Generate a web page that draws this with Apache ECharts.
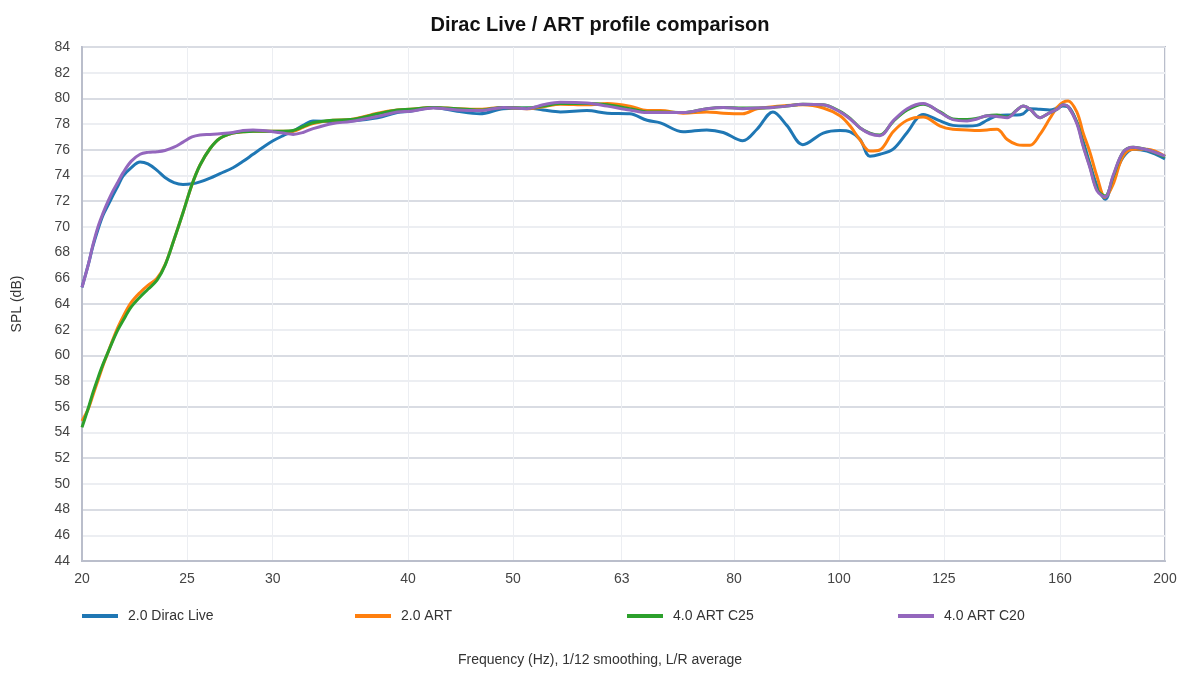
<!DOCTYPE html>
<html>
<head>
<meta charset="utf-8">
<script src="https://cdn.jsdelivr.net/npm/echarts@6/dist/echarts.min.js"></script>
<style>
  html, body { margin: 0; padding: 0; background: #fff; }
  #chart { width: 1200px; height: 680px; }
</style>
</head>
<body>
<div id="chart"></div>
<script>
const freqs = [
  20.0, 20.26, 20.47, 20.69, 20.91, 21.14, 21.36, 21.59, 21.82, 22.20,
  22.63, 23.01, 23.46, 23.86, 24.32, 24.79, 25.27, 25.70, 26.26, 26.82,
  27.57, 28.17, 28.77, 29.39, 30.02, 30.67, 31.33, 32.00, 32.69,
  34.1, 35.4, 37.5,
  39.1, 40.2, 42.2, 44.4, 46.6, 49.0, 51.5, 53.3, 55.3, 58.5,
  61.1, 64.1, 66.5, 68.4, 71.8, 75.5, 78.2, 81.5, 84.0, 86.9,
  89.5, 92.6, 96.7, 100.2, 102.4, 104.6, 106.8, 109.1, 112.2, 115.6,
  119.6, 124.0, 127.4, 131.3, 134.1, 137.0, 139.9, 143.0, 146.0, 147.9,
  150.1, 153.3, 156.6, 159.0, 161.0, 162.8, 165.9, 168.0, 170.5, 173.1,
  176.1, 179.1, 182.9, 186.9, 192.5, 200.0];

const diracLive = [
  65.3, 67.0, 68.5, 69.8, 70.9, 71.7, 72.45, 73.2, 73.95, 74.6,
  75.05, 74.9, 74.4, 73.85, 73.45, 73.3, 73.35, 73.5, 73.8, 74.15,
  74.6, 75.1, 75.65, 76.2, 76.7, 77.1, 77.45, 77.9, 78.25,
  78.2, 78.25, 78.5,
  78.9, 79.0, 79.3, 79.0, 78.8, 79.2, 79.25, 79.1, 78.95, 79.05,
  78.85, 78.8, 78.3, 78.1, 77.4, 77.55, 77.35, 76.7, 77.6, 78.95,
  77.9, 76.4, 77.3, 77.5, 77.4, 76.8, 75.5, 75.65, 76.05, 77.35,
  78.75, 78.25, 77.9, 77.85, 77.9, 78.3, 78.65, 78.7, 78.7, 78.8,
  79.2, 79.15, 79.1, 79.25, 79.4, 79.35, 78.1, 76.7, 74.9, 73.2,
  72.15, 73.7, 75.4, 76.05, 75.9, 75.3];

const art20 = [
  54.9, 55.8, 56.9, 58.05, 59.2, 60.25, 61.25, 62.2, 63.0, 64.1,
  64.9, 65.45, 66.0, 67.05, 69.0, 71.1, 73.3, 74.8, 76.1, 76.9,
  77.3, 77.4, 77.45, 77.45, 77.45, 77.45, 77.45, 77.75, 78.05,
  78.3, 78.35, 78.85,
  79.1, 79.15, 79.3, 79.2, 79.15, 79.3, 79.2, 79.35, 79.55, 79.5,
  79.6, 79.4, 79.05, 79.05, 78.85, 78.95, 78.85, 78.8, 79.2, 79.35,
  79.45, 79.5, 79.25, 78.65, 77.85, 76.75, 75.9, 76.0, 77.4, 78.3,
  78.55, 77.85, 77.6, 77.55, 77.5, 77.55, 77.6, 76.8, 76.4, 76.35,
  76.35, 77.2, 78.45, 79.3, 79.7, 79.8, 78.9, 77.35, 75.8, 73.9,
  72.3, 73.3, 75.5, 76.05, 76.05, 75.5];

const artC25 = [
  54.4, 55.85, 57.1, 58.25, 59.3, 60.25, 61.15, 62.0, 62.7, 63.75,
  64.55, 65.15, 65.85, 67.0, 69.0, 71.1, 73.3, 74.8, 76.1, 76.9,
  77.3, 77.4, 77.45, 77.45, 77.45, 77.45, 77.5, 77.8, 78.1,
  78.3, 78.35, 78.8,
  79.1, 79.15, 79.3, 79.2, 79.1, 79.3, 79.25, 79.4, 79.6, 79.6,
  79.5, 79.2, 78.95, 78.95, 78.9, 79.2, 79.3, 79.25, 79.25, 79.3,
  79.4, 79.55, 79.5, 79.0, 78.45, 77.7, 77.3, 77.15, 78.2, 79.1,
  79.55, 78.95, 78.4, 78.35, 78.45, 78.65, 78.7, 78.55, 79.1, 79.4,
  79.15, 78.5, 78.9, 79.15, 79.5, 79.35, 78.1, 76.4, 74.7, 72.9,
  72.4, 73.9, 75.8, 76.2, 76.0, 75.45];

const artC20 = [
  65.3, 67.0, 68.6, 70.0, 71.05, 72.0, 72.8, 73.5, 74.2, 75.1,
  75.65, 75.8, 75.85, 75.95, 76.2, 76.6, 77.0, 77.15, 77.2, 77.25,
  77.35, 77.5, 77.55, 77.5, 77.4, 77.3, 77.2, 77.35, 77.65,
  78.05, 78.2, 78.6,
  78.95, 79.0, 79.25, 79.1, 79.05, 79.3, 79.2, 79.5, 79.7, 79.65,
  79.4, 79.1, 78.9, 78.9, 78.9, 79.2, 79.3, 79.2, 79.25, 79.3,
  79.4, 79.55, 79.5, 78.95, 78.4, 77.7, 77.25, 77.1, 78.25, 79.2,
  79.6, 78.9, 78.35, 78.25, 78.4, 78.65, 78.6, 78.5, 79.1, 79.4,
  79.15, 78.5, 78.9, 79.15, 79.5, 79.35, 78.0, 76.3, 74.6, 72.8,
  72.35, 74.0, 75.8, 76.2, 76.0, 75.5];

const seriesNames = ['2.0 Dirac Live', '2.0 ART', '4.0 ART C25', '4.0 ART C20'];
const seriesValues = [diracLive, art20, artC25, artC20];
const seriesColors = ['#1f77b4', '#ff7f0e', '#2ca02c', '#9467bd'];
const xTicks = [20, 25, 30, 40, 50, 63, 80, 100, 125, 160, 200];
const yMin = 44, yMax = 84, yStep = 2;

const FONT = '"Liberation Sans", Arial, sans-serif';
const chart = echarts.init(document.getElementById('chart'), null, { renderer: 'canvas' });

const legendLefts = [82, 355, 627, 898];
const option = {
  backgroundColor: '#ffffff',
  animation: false,
  textStyle: { fontFamily: FONT },
  title: {
    text: 'Dirac Live / ART profile comparison',
    left: 'center',
    top: 10,
    textStyle: { fontFamily: FONT, fontSize: 20, fontWeight: 'bold', color: '#111' }
  },
  legend: seriesNames.map((n, i) => ({
    data: [n],
    left: legendLefts[i],
    top: 609,
    padding: 0,
    icon: 'rect',
    itemWidth: 36,
    itemHeight: 4,
    itemGap: 0,
    textStyle: { fontFamily: FONT, fontSize: 14, color: '#333', padding: [0, 0, 0, 5] }
  })),
  grid: {
    left: 82, right: 35, top: 47, bottom: 119,
    show: true, borderColor: '#babecb', borderWidth: 2, containLabel: false
  },
  xAxis: {
    type: 'log',
    logBase: 10,
    min: 20,
    max: 200,
    name: 'Frequency (Hz), 1/12 smoothing, L/R average',
    nameLocation: 'middle',
    nameGap: 92,
    nameTextStyle: { fontFamily: FONT, fontSize: 14, color: '#333', padding: [0, 47, 0, 0] },
    axisLine: { show: true, lineStyle: { color: '#babecb', width: 2 } },
    axisTick: { show: false, customValues: xTicks },
    axisLabel: { customValues: xTicks, fontFamily: FONT, fontSize: 14, color: '#444', margin: 11,
      formatter: v => String(Math.round(v)) },
    splitLine: { show: true, lineStyle: { color: '#eceef2', width: 1 } },
    minorTick: { show: false },
    minorSplitLine: { show: false }
  },
  yAxis: {
    type: 'value',
    min: yMin,
    max: yMax,
    interval: yStep,
    name: 'SPL (dB)',
    nameLocation: 'middle',
    nameGap: 58,
    nameRotate: 90,
    nameTextStyle: { fontFamily: FONT, fontSize: 14, color: '#333' },
    axisLine: { show: true, lineStyle: { color: '#babecb', width: 2 } },
    axisTick: { show: false },
    axisLabel: { fontFamily: FONT, fontSize: 14, color: '#444', margin: 12 },
    splitLine: { show: true, lineStyle: { color: ['#d9dce3', '#eceef2'], width: 2 } }
  },
  series: seriesNames.map((n, i) => ({
    name: n,
    type: 'line',
    smooth: 0.35,
    showSymbol: false,
    symbol: 'none',
    color: seriesColors[i],
    lineStyle: { width: 3, color: seriesColors[i] },
    data: freqs.map((f, k) => [f, seriesValues[i][k]])
  }))
};
chart.setOption(option);
</script>
</body>
</html>
